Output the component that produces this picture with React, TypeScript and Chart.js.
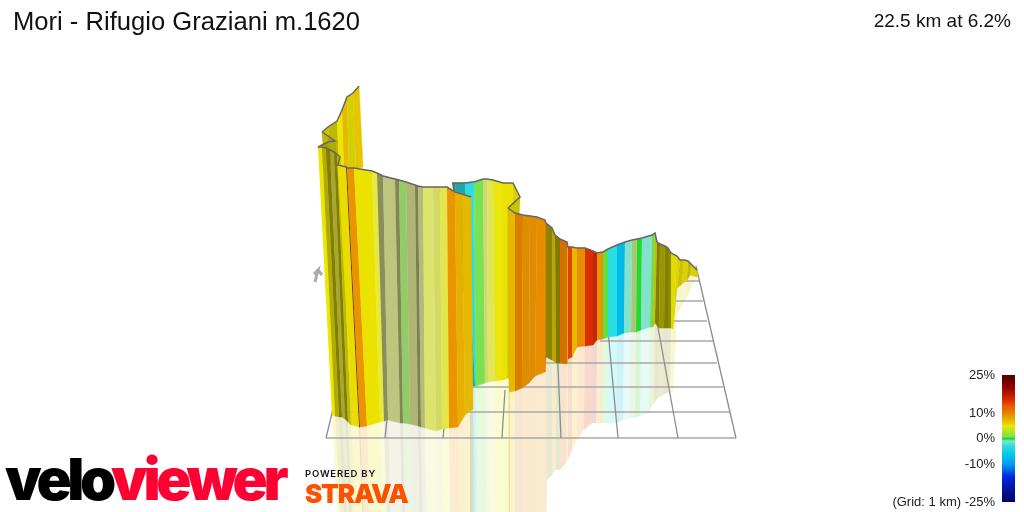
import { useEffect, useRef } from 'react';
import Chart from 'chart.js/auto';

// colour scale of the ribbon: grade in %, and its colour
const rampGrades = [-25, -15, -10, -7, -3, -1, 0, 0.7, 1.4, 2, 3, 4, 5, 7, 9, 11, 13, 15, 20, 25];
const rampColors = [
  [5, 0, 95], [0, 40, 220], [0, 160, 240], [0, 192, 228], [40, 222, 226], [130, 226, 204],
  [20, 215, 45], [122, 226, 80], [145, 204, 102], [190, 197, 125], [220, 228, 110], [230, 232, 60],
  [236, 230, 0], [228, 185, 0], [234, 148, 0], [224, 118, 0], [240, 80, 0], [218, 48, 0], [150, 0, 0], [80, 0, 0],
];

const legendTicks = [25, 10, 0, -10, -25];
// grades the colour bar blends through, the pale ribbon tones stay out of it
const legendStops = [-25, -15, -10, -7, -3, -1, 0, 0.7, 5, 7, 9, 11, 13, 15, 20, 25];

// back part of the climb
const backTopX = [322, 328, 337, 342, 347, 353, 359];
const backTopY = [132, 127, 121, 110, 97, 93, 86];
const backBotX = [324, 330, 339, 344, 349, 356, 363];
const backBotY = [165, 165, 165, 170, 170, 170, 167];
const backGrade = [5, 5, 5, 7, 5, 6.5];
const backLight = [0.85, 0.8, 1, 1, 0.9, 1];

const foldTopX = [322, 328, 335, 328, 318];
const foldTopY = [132, 136, 141, 142, 147];
const foldBotX = [324, 330, 337, 332, 322];
const foldBotY = [165, 165, 165, 165, 165];
const foldGrade = [5, 4, 5, 5];
const foldLight = [0.8, 0.7, 0.75, 0.7];

// middle part, behind the front wall
const midTopX = [452, 455, 465, 473, 474, 483, 487, 493, 503, 513, 520, 508];
const midTopY = [183, 183, 183, 182, 182, 179, 179, 180, 183, 183, 197, 208];
const midBotX = [470, 472, 475, 476, 476, 485, 488, 495, 503, 508, 510, 508];
const midBotY = [300, 386, 386, 386, 386, 383, 382, 381, 380, 378, 380, 378];
const midGrade = [-1, -3, -3, -3, 0.7, 2.6, 3.4, 4.8, 5.2, 5.5, 5];
const midLight = [0.55, 0.75, 1, 1, 1, 1, 1, 1, 1, 0.95, 0.85];
const midReflX = [470, 472, 477, 478, 479, 487, 490, 497, 505, 509, 510, 509];
const midReflY = [600, 600, 600, 600, 600, 600, 600, 600, 600, 600, 600, 600];

// right part, far end of the ribbon
const farTopX = [508, 515, 523, 530, 537, 545, 546, 552, 555, 560, 567, 568, 572, 577, 585, 593, 597, 603, 608, 617, 625, 632, 637, 642, 652, 655, 657, 660, 665, 668, 671, 677, 680, 684, 688, 692, 697];
const farTopY = [208, 213, 215, 216, 217, 220, 223, 228, 235, 239, 242, 247, 247, 248, 248, 251, 253, 252, 249, 245, 242, 240, 239, 238, 235, 233, 242, 244, 246, 248, 253, 256, 260, 260, 261, 265, 270];
const farBotX = [509, 515, 522, 529, 535, 545, 546, 552, 556, 560, 567, 568, 572, 577, 585, 593, 597, 603, 608, 617, 624, 631, 636, 641, 650, 653, 655, 659, 664, 668, 671, 673, 677, 682, 687, 690, 697];
const farBotY = [392, 391, 388, 383, 376, 372, 357, 360, 363, 363, 364, 359, 357, 347, 346, 345, 340, 339, 337, 336, 333, 332, 332, 330, 327, 327, 323, 328, 328, 328, 328, 329, 288, 284, 280, 275, 277];
const farGrade = [7, 10, 9, 9, 9.5, 9, 5.5, 6, 5.5, 11, 6, 14, 7, 9.5, 15, 15.5, 9, 0.5, -3, -7.5, -1, 1.7, 0.1, -1, 0.6, 5.5, 5, 5, 5, 5, 5, 5.5, 5, 5.5, 5, 5.5];
const farLight = [1, 0.95, 0.95, 0.95, 1, 0.9, 0.6, 0.8, 0.55, 0.95, 0.9, 1, 1, 1, 1, 0.9, 1, 1, 1, 1, 1, 1, 1, 1, 1, 0.85, 0.55, 0.65, 0.55, 0.6, 0.95, 0.95, 0.85, 0.95, 0.8, 0.95];
const farReflX = [509, 515, 522, 529, 535, 545, 547, 552, 556, 560, 566, 568, 572, 577, 584, 592, 596, 602, 607, 616, 623, 630, 635, 640, 649, 652, 654, 658, 663, 667, 670, 673, 677, 682, 687, 690, 697];
const farReflY = [600, 600, 600, 600, 600, 600, 480, 475, 470, 470, 463, 460, 450, 440, 430, 423, 423, 423, 423, 423, 420, 418, 418, 416, 413, 405, 403, 398, 395, 393, 392, 393, 315, 305, 298, 290, 278];

// front wall
const frontTopX = [318, 322, 326, 330, 334, 337, 340, 338, 346, 347, 354, 372, 377, 383, 395, 399, 406, 415, 418, 423, 433, 440, 447, 455, 462, 471];
const frontTopY = [147, 147, 148, 150, 152, 154, 157, 165, 167, 168, 168, 171, 173, 176, 179, 180, 182, 185, 186, 187, 187, 187, 187, 192, 194, 197];
const frontBotX = [332, 335, 339, 342, 345, 348, 351, 353, 359, 360, 367, 380, 384, 388, 400, 403, 410, 418, 421, 425, 436, 442, 449, 458, 465, 473];
const frontBotY = [415, 416, 417, 417, 419, 422, 425, 425, 427, 427, 426, 422, 421, 420, 423, 423, 424, 426, 427, 428, 431, 429, 428, 427, 415, 409];
const frontGrade = [5, 5, 5, 4, 5, 5, 5, 5.5, 9, 9, 5.2, 4, 2, 2, 2, 1.4, 2, 2, 2, 3, 3.1, 3.7, 9, 7.5, 7];
const frontLight = [1, 0.75, 0.55, 0.72, 0.55, 0.8, 0.95, 1, 0.45, 1, 1, 1, 0.72, 1, 0.68, 1, 0.92, 0.65, 0.95, 1, 0.95, 1, 1, 1, 1];
const frontReflX = [342, 345, 348, 351, 354, 356, 359, 361, 366, 367, 373, 385, 389, 393, 404, 407, 414, 421, 424, 428, 438, 444, 451, 460, 467, 475];
const frontReflY = [600, 600, 600, 600, 600, 600, 600, 600, 600, 600, 600, 600, 600, 600, 600, 600, 600, 600, 600, 600, 600, 600, 600, 600, 600, 600];

// floor grid, 1 km squares
const gridRowY = [438, 412, 387, 363, 341, 321, 301, 281];
const gridRowLeft = [326, 331, 473, 545, 600, 660, 675, 680];
const gridRowRight = [736, 730, 723, 717, 713, 707, 703, 699];
const gridColBaseX = [326, 385, 443, 502, 561, 618, 678, 736];
const gridColEndX = [334, 388, 445, 505, 556, 607, 653, 696];
const gridColEndY = [405, 410, 420, 390, 320, 320, 300, 266];

const arrowX = [315, 318, 314, 318, 322];
const arrowY = [282, 270, 274, 270, 275];

const rampAt = (grade: number) => {
  let i = 0;
  while (i < rampGrades.length - 2 && grade > rampGrades[i + 1]) i++;
  const t = (grade - rampGrades[i]) / (rampGrades[i + 1] - rampGrades[i]);
  return rampColors[i].map((c, k) => c + (rampColors[i + 1][k] - c) * t);
};

const stripColor = (grade: number, light: number, alpha = 1) => {
  const [r, g, b] = rampAt(grade);
  return `rgba(${r * light}, ${g * light}, ${b * light}, ${alpha})`;
};

const shape = (points: { x: number; y: number }[], color: string, seam = 0.5) => ({
  data: points,
  showLine: true,
  pointRadius: 0,
  fill: 'shape',
  backgroundColor: color,
  borderColor: color,
  borderWidth: seam,
});

const polyline = (xs: number[], ys: number[], color: string, width: number) => ({
  data: xs.map((x, i) => ({ x, y: ys[i] })),
  showLine: true,
  pointRadius: 0,
  fill: false,
  borderColor: color,
  borderWidth: width,
});

const strips = (tx: number[], ty: number[], bx: number[], by: number[], grade: number[], light: number[]) =>
  grade.map((g, i) =>
    shape(
      [
        { x: tx[i], y: ty[i] },
        { x: tx[i + 1], y: ty[i + 1] },
        { x: bx[i + 1], y: by[i + 1] },
        { x: bx[i], y: by[i] },
      ],
      stripColor(g, light[i]),
    ),
  );

const reflections = (bx: number[], by: number[], rx: number[], ry: number[], grade: number[], light: number[]) =>
  grade.map((g, i) =>
    shape(
      [
        { x: bx[i], y: by[i] },
        { x: bx[i + 1], y: by[i + 1] },
        { x: rx[i + 1], y: ry[i + 1] },
        { x: rx[i], y: ry[i] },
      ],
      stripColor(g, light[i], 0.19),
      0,
    ),
  );

const buildDatasets = () => {
  const outline = '#666666';
  // paint order, the chart draws the last dataset first so this gets reversed
  const painted: any[] = [
    ...reflections(frontBotX, frontBotY, frontReflX, frontReflY, frontGrade, frontLight),
    ...reflections(midBotX, midBotY, midReflX, midReflY, midGrade, midLight),
    ...reflections(farBotX, farBotY, farReflX, farReflY, farGrade, farLight),
    ...gridRowY.map((y, i) => polyline([gridRowLeft[i], gridRowRight[i]], [y, y], '#a8a8a8', 1.5)),
    ...gridColBaseX.map((x, i) => polyline([x, gridColEndX[i]], [438, gridColEndY[i]], '#8c8c8c', 1.3)),
    ...strips(backTopX, backTopY, backBotX, backBotY, backGrade, backLight),
    polyline(backTopX, backTopY, outline, 1.5),
    ...strips(foldTopX, foldTopY, foldBotX, foldBotY, foldGrade, foldLight),
    polyline(foldTopX, foldTopY, outline, 1.5),
    ...strips(midTopX, midTopY, midBotX, midBotY, midGrade, midLight),
    polyline(midTopX, midTopY, outline, 1.5),
    ...strips(farTopX, farTopY, farBotX, farBotY, farGrade, farLight),
    polyline(farTopX, farTopY, outline, 1.5),
    ...strips(frontTopX, frontTopY, frontBotX, frontBotY, frontGrade, frontLight),
    polyline(frontTopX, frontTopY, outline, 1.5),
    polyline(arrowX, arrowY, '#aaaaaa', 3),
    {
      // colour bar, on the grade axis
      data: [
        { x: 1008.5, y: -25 },
        { x: 1008.5, y: 25 },
      ],
      yAxisID: 'grade',
      showLine: true,
      pointRadius: 0,
      fill: false,
      borderWidth: 13,
      borderColor: (ctx: any) => {
        const scale = ctx.chart.scales.grade;
        const y0 = scale ? scale.getPixelForValue(-25) : NaN;
        const y1 = scale ? scale.getPixelForValue(25) : NaN;
        if (!Number.isFinite(y0) || !Number.isFinite(y1)) return '#000';
        const grad = ctx.chart.ctx.createLinearGradient(0, y0, 0, y1);
        legendStops.forEach((g) => {
          const [r, gg, b] = rampAt(g);
          grad.addColorStop((g + 25) / 50, `rgb(${r}, ${gg}, ${b})`);
        });
        return grad;
      },
    },
  ];
  return painted.reverse();
};

const textStyle = (left: number, top: number, size: number, color = '#111'): any => ({
  position: 'absolute',
  left,
  top,
  fontSize: size,
  color,
  fontFamily: '"Liberation Sans", Arial, sans-serif',
  whiteSpace: 'nowrap',
  lineHeight: 1,
});

const App = () => {
  const chartRef = useRef<HTMLCanvasElement>(null);

  useEffect(() => {
    if (!chartRef.current) return;
    const chart = new Chart(chartRef.current, {
      type: 'scatter',
      data: { datasets: buildDatasets() },
      options: {
        animation: false,
        responsive: false,
        layout: { padding: 0, autoPadding: false },
        plugins: { legend: { display: false }, tooltip: { enabled: false } },
        scales: {
          x: { type: 'linear', min: 0, max: 1024, display: false },
          y: { type: 'linear', min: 0, max: 512, reverse: true, display: false },
          grade: {
            type: 'linear',
            position: 'right',
            min: -28.9,
            max: 172.6,
            grid: { display: false, drawTicks: false },
            border: { display: false },
            afterBuildTicks: (axis: any) => {
              axis.ticks = legendTicks.map((value) => ({ value }));
            },
            afterFit: (axis: any) => {
              axis.width = 0;
              axis.paddingTop = 0;
              axis.paddingBottom = 0;
              axis.paddingLeft = 0;
              axis.paddingRight = 0;
            },
            ticks: {
              mirror: true,
              padding: -29,
              autoSkip: false,
              color: '#222',
              font: { family: '"Liberation Sans", Arial, sans-serif', size: 13 },
              callback: (v: any) => (v === -25 ? '(Grid: 1 km) -25%' : `${v}%`),
            },
          },
        },
      },
    } as any);
    // second pass so the colour bar gradient sees the fitted grade axis
    chart.update();
    return () => chart.destroy();
  }, []);

  return (
    <div style={{ position: 'absolute', left: 0, top: 0, width: 1024, height: 512, overflow: 'hidden', background: '#fff' }}>
      <canvas ref={chartRef} width={1024} height={512} style={{ position: 'absolute', left: 0, top: 0 }} />
      <div style={textStyle(13, 9, 25.6)}>Mori - Rifugio Graziani m.1620</div>
      <div style={{ ...textStyle(0, 11, 19), left: 'auto', right: 13 }}>22.5 km at 6.2%</div>
      <div
        style={{
          ...textStyle(5, 450, 58),
          fontFamily: 'Inter, "Liberation Sans", sans-serif',
          fontWeight: 900,
          letterSpacing: -4.3,
        }}
      >
        <span style={{ color: '#000' }}>velo</span>
        <span style={{ color: '#ff0033' }}>viewer</span>
      </div>
      <div style={{ ...textStyle(305, 469, 9.5), fontWeight: 600, letterSpacing: 0.8, fontFamily: 'Inter, sans-serif' }}>POWERED BY</div>
      <div style={{ ...textStyle(305, 481, 26, '#fc5200'), fontWeight: 900, letterSpacing: -1.2, fontFamily: 'Inter, sans-serif' }}>STRAVA</div>
    </div>
  );
};

export default App;
